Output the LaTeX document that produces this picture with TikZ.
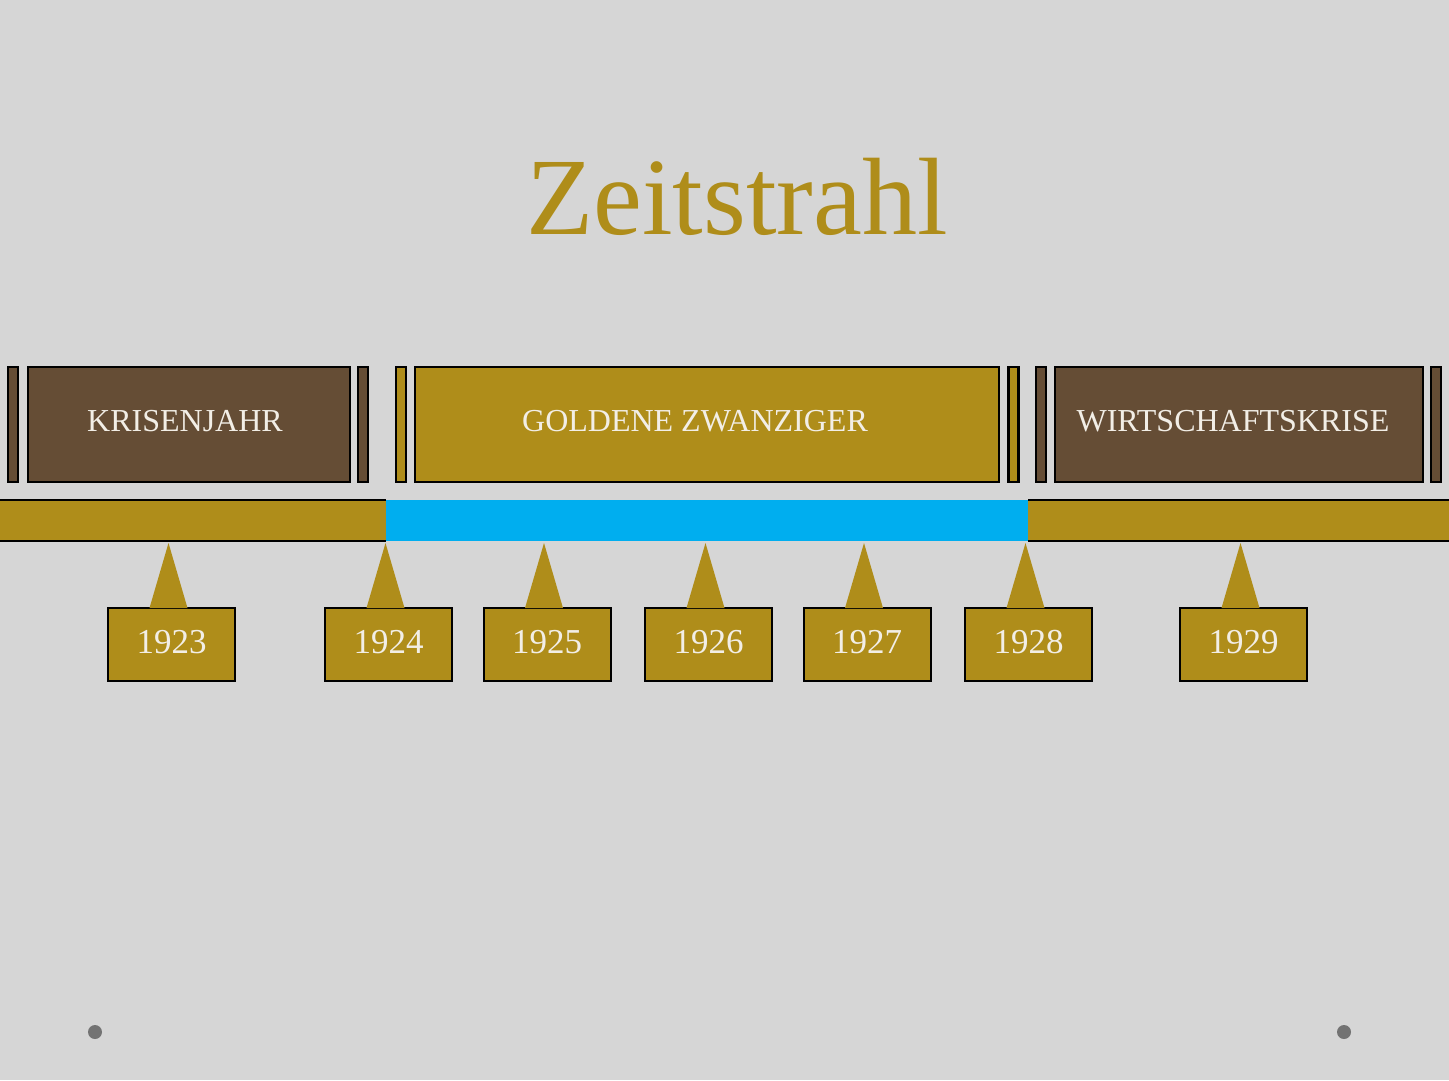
\documentclass[tikz,border=0pt]{standalone}
\usepackage{fontspec}
\setmainfont{Liberation Serif}
\usetikzlibrary{calc}
\definecolor{gold}{HTML}{AF8D1A}
\definecolor{brownbox}{HTML}{654D35}
\definecolor{skyblue}{HTML}{00AEEF}
\definecolor{paper}{HTML}{D6D6D6}
\definecolor{cream}{HTML}{F2EEE6}
\definecolor{dotgrey}{HTML}{737373}
\begin{document}
\begin{tikzpicture}[x=1pt, y=-1pt,
    period/.style={draw=black, line width=2.5pt, minimum height=115pt, inner sep=0pt, text depth=8pt, text=cream, font=\fontsize{32}{38}\selectfont},
    sidebar/.style={draw=black, line width=2.5pt, minimum height=115pt, minimum width=10pt, inner sep=0pt},
    yearbox/.style={draw=black, line width=2pt, fill=gold, minimum width=127pt, minimum height=73pt, inner sep=0pt, text depth=6pt, text=cream, font=\fontsize{35}{40}\selectfont}]
        \useasboundingbox[fill=paper] (0,0) rectangle (1449,1080);

        \node[text=gold, font=\fontsize{110}{120}\selectfont] (title) at (737,197) {Zeitstrahl};

        % periods
        \node[sidebar, fill=brownbox] (K0) at (13,424.5) {};
        \node[period, fill=brownbox, minimum width=322pt] (K) at (189,424.5) {KRISENJAHR\hspace*{8pt}};
        \node[sidebar, fill=brownbox] (K1) at (363,424.5) {};
        \node[sidebar, fill=gold] (G0) at (401,424.5) {};
        \node[period, fill=gold, minimum width=584pt] (G) at (707,424.5) {GOLDENE ZWANZIGER\hspace*{24pt}};
        \node[sidebar, fill=gold] (G1) at (1013.5,424.5) {};
        \node[sidebar, fill=brownbox] (W0) at (1041,424.5) {};
        \node[period, fill=brownbox, minimum width=368pt] (W) at (1239,424.5) {WIRTSCHAFTSKRISE\hspace*{12pt}};
        \node[sidebar, fill=brownbox] (W1) at (1436,424.5) {};

        % timeline
        \coordinate (B0) at (0,500);
        \coordinate (B1) at (386,541);
        \coordinate (B2) at (1028,500);
        \coordinate (B3) at (1449,541);
        \fill[gold] (B0) rectangle (B1);
        \fill[skyblue] (B1 |- B0) rectangle (B2 |- B1);
        \fill[gold] (B2) rectangle (B3);
        \draw[line width=2.5pt] (B0) -- (B1 |- B0) (B0 |- B1) -- (B1);
        \draw[line width=2.5pt] (B2) -- (B3 |- B2) (B2 |- B3) -- (B3);

        % years
        \node[yearbox] (Y1923) at (171.5,644.5) {1923};
        \node[yearbox] (Y1924) at (388.5,644.5) {1924};
        \node[yearbox] (Y1925) at (547,644.5) {1925};
        \node[yearbox] (Y1926) at (708.5,644.5) {1926};
        \node[yearbox] (Y1927) at (867,644.5) {1927};
        \node[yearbox] (Y1928) at (1028.5,644.5) {1928};
        \node[yearbox] (Y1929) at (1243.5,644.5) {1929};

        \foreach \y in {Y1923,Y1924,Y1925,Y1926,Y1927,Y1928,Y1929}
            \fill[gold] ($(\y.north)+(-22,1)$) -- ($(\y.north)+(-3,-64)$) -- ($(\y.north)+(16,1)$) -- cycle;

        \fill[dotgrey] (95,1032) circle (7);
        \fill[dotgrey] (1344,1032) circle (7);
    \end{tikzpicture}
\end{document}
